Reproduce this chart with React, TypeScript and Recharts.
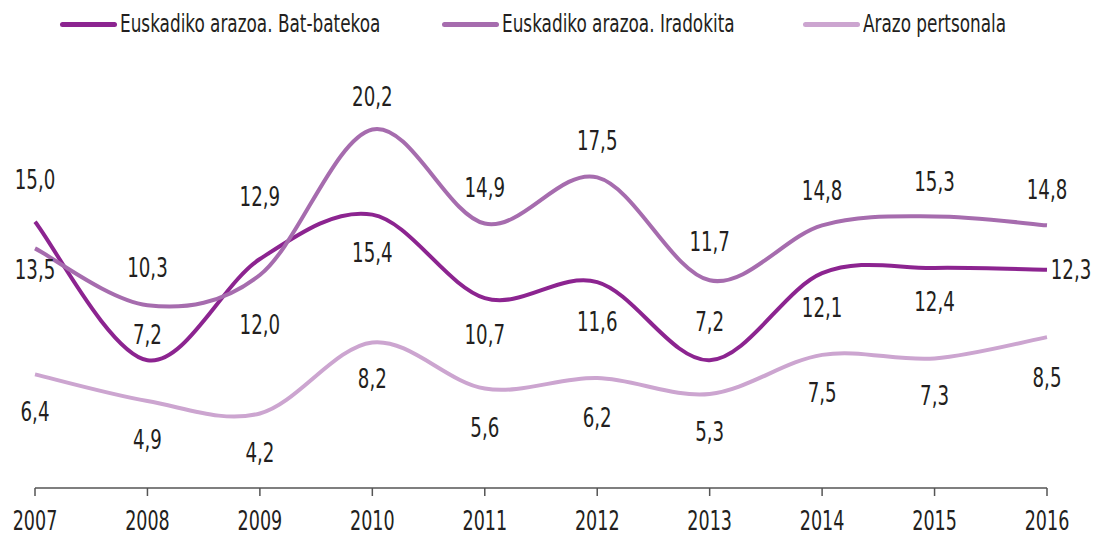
import { LabelList, Line, LineChart, XAxis, YAxis } from 'recharts';

const years = ['2007', '2008', '2009', '2010', '2011', '2012', '2013', '2014', '2015', '2016'];
const batBatekoa = [15.0, 7.2, 12.9, 15.4, 10.7, 11.6, 7.2, 12.1, 12.4, 12.3];
const iradokita = [13.5, 10.3, 12.0, 20.2, 14.9, 17.5, 11.7, 14.8, 15.3, 14.8];
const pertsonala = [6.4, 4.9, 4.2, 8.2, 5.6, 6.2, 5.3, 7.5, 7.3, 8.5];

// label placement relative to each point (px)
const batDy = [-42, -25, -62, 38, 37, 40, -38, 35, 34, 0];
const batDx = [0, 0, 0, 0, 0, 0, 0, 0, 0, 24];
const iradDy = [22, -37, 50, -33, -36, -36, -38, -34, -34, -35];
const pertsDy = [38, 39, 39, 36, 39, 40, 38, 38, 38, 41];
const zeros = years.map(() => 0);

const SERIES = [
  { key: 'bat', name: 'Euskadiko arazoa. Bat-batekoa', color: '#8C2490', dy: batDy, dx: batDx, legendX: 60 },
  { key: 'irad', name: 'Euskadiko arazoa. Iradokita', color: '#A66CAE', dy: iradDy, dx: zeros, legendX: 442 },
  { key: 'perts', name: 'Arazo pertsonala', color: '#CCA5D0', dy: pertsDy, dx: zeros, legendX: 803 },
];

const data = years.map((year, i) => ({
  year,
  bat: batBatekoa[i],
  irad: iradokita[i],
  perts: pertsonala[i],
}));

// no narrow font installed, so squeeze the condensed one horizontally
const FONT = '"DejaVu Sans Condensed", "DejaVu Sans", sans-serif';
const SQUEEZE = 0.75;
const INK = '#231F20';

// Excel-like smoothed line (Catmull-Rom through every point)
function smoothCurve(context: any) {
  let pts: number[][] = [];
  return {
    areaStart() {},
    areaEnd() {},
    lineStart() {
      pts = [];
    },
    point(x: number, y: number) {
      pts.push([+x, +y]);
    },
    lineEnd() {
      if (!pts.length) return;
      context.moveTo(pts[0][0], pts[0][1]);
      for (let i = 0; i < pts.length - 1; i++) {
        const p0 = pts[i - 1] || pts[i];
        const p1 = pts[i];
        const p2 = pts[i + 1];
        const p3 = pts[i + 2] || p2;
        context.bezierCurveTo(
          p1[0] + (p2[0] - p0[0]) / 6,
          p1[1] + (p2[1] - p0[1]) / 6,
          p2[0] - (p3[0] - p1[0]) / 6,
          p2[1] - (p3[1] - p1[1]) / 6,
          p2[0],
          p2[1],
        );
      }
    },
  };
}

function NarrowText({ x, y, children, size = 27 }: any) {
  return (
    <text
      transform={`translate(${x},${y}) scale(${SQUEEZE},1)`}
      textAnchor="middle"
      dominantBaseline="central"
      fontFamily={FONT}
      fontSize={size}
      fill={INK}
    >
      {children}
    </text>
  );
}

function makeLabel(dy: number[], dx: number[]) {
  return (props: any) => {
    const { x, y, value, index } = props;
    return (
      <NarrowText x={x + dx[index]} y={y + dy[index]}>
        {Number(value).toFixed(1).replace('.', ',')}
      </NarrowText>
    );
  };
}

function YearTick({ x, y, payload }: any) {
  return (
    <NarrowText x={x} y={y + 23} size={26}>
      {payload.value}
    </NarrowText>
  );
}

function ChartLegend() {
  return (
    <div style={{ position: 'absolute', top: 0, left: 0, width: 1094, height: 48 }}>
      {SERIES.map((s) => (
        <div
          key={s.key}
          style={{ position: 'absolute', left: s.legendX, top: 9, display: 'flex', alignItems: 'center', whiteSpace: 'nowrap' }}
        >
          <span
            style={{
              display: 'inline-block',
              width: 57,
              height: 5,
              borderRadius: 3,
              background: s.color,
              marginRight: 3,
            }}
          />
          <span
            style={{
              display: 'inline-block',
              fontFamily: FONT,
              fontSize: 25,
              lineHeight: '30px',
              color: INK,
              transform: `scaleX(${SQUEEZE})`,
              transformOrigin: 'left center',
            }}
          >
            {s.name}
          </span>
        </div>
      ))}
    </div>
  );
}

export default function App() {
  return (
    <div style={{ position: 'relative', width: 1094, height: 537, background: '#fff' }}>
      <style>{'body{margin:0}'}</style>
      <LineChart width={1094} height={537} data={data} margin={{ top: 62, right: 47, left: 35, bottom: 19 }}>
        <XAxis
          dataKey="year"
          scale="point"
          padding={{ left: 0, right: 0 }}
          height={30}
          axisLine={{ stroke: '#555', strokeWidth: 1.5 }}
          tickLine={{ stroke: '#555', strokeWidth: 1.5 }}
          tickSize={8}
          tick={<YearTick />}
        />
        <YAxis hide domain={[0, 24]} />
        {SERIES.map((s) => (
          <Line
            key={s.key}
            dataKey={s.key}
            name={s.name}
            type={smoothCurve as any}
            stroke={s.color}
            strokeWidth={4}
            dot={false}
            activeDot={false}
            isAnimationActive={false}
          >
            <LabelList dataKey={s.key} content={makeLabel(s.dy, s.dx)} />
          </Line>
        ))}
      </LineChart>
      <ChartLegend />
    </div>
  );
}
